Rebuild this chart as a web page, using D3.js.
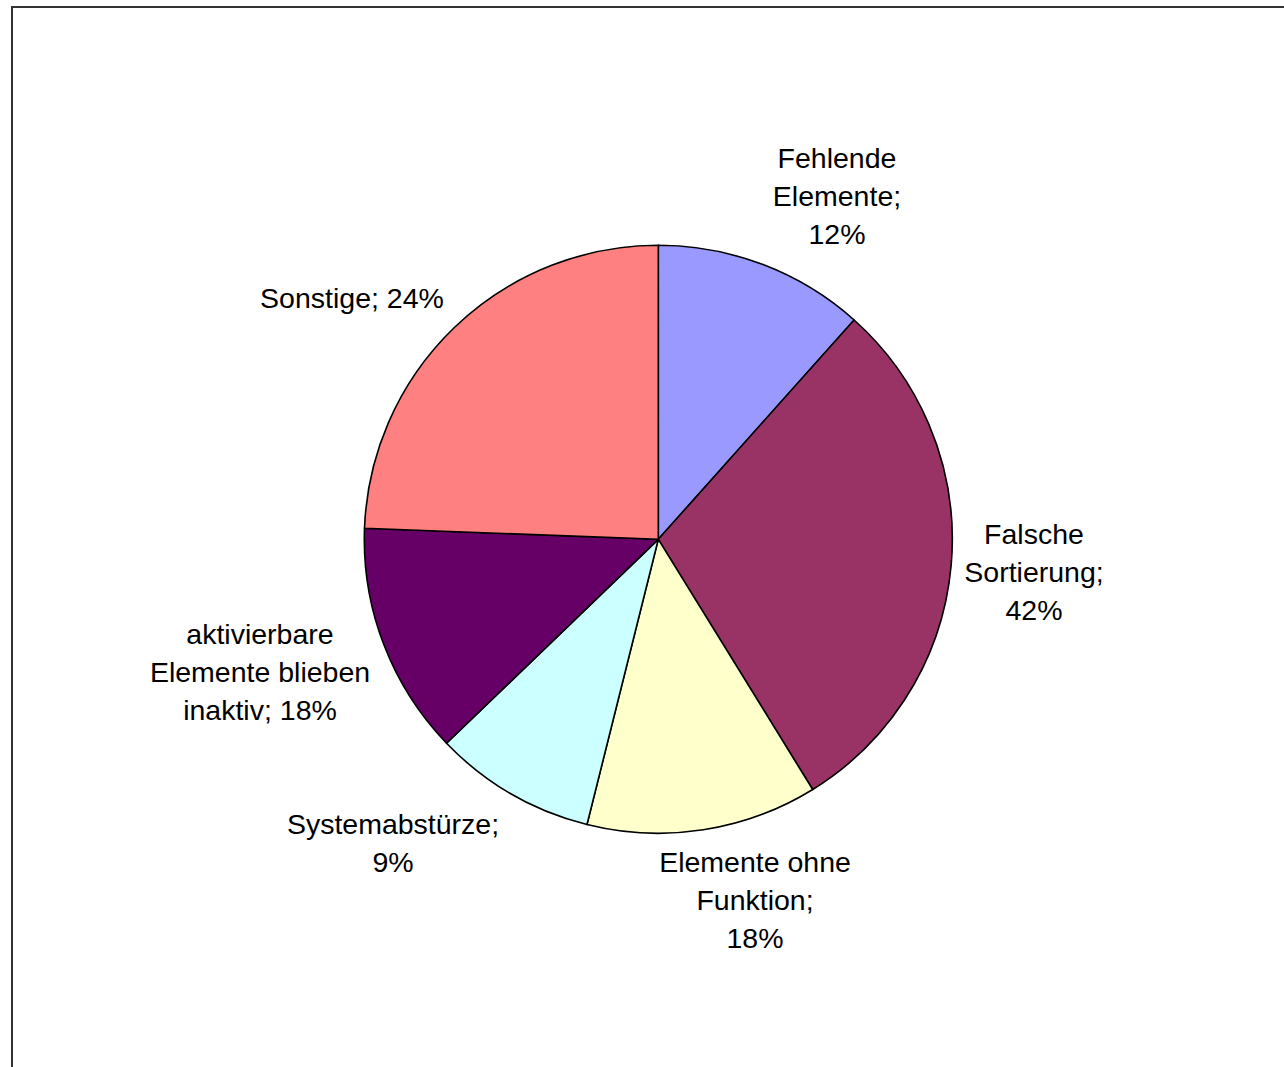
<!DOCTYPE html>
<html>
<head>
<meta charset="utf-8">
<script src="https://cdn.jsdelivr.net/npm/d3@7"></script>
<style>
  html, body { margin: 0; padding: 0; background: #fff; }
  svg { display: block; }
</style>
</head>
<body>
<div id="chart"></div>
<script>
// Slice sizes
const categories = ["Fehlende Elemente", "Falsche Sortierung", "Elemente ohne Funktion", "Systemabstürze", "aktivierbare Elemente blieben inaktiv", "Sonstige"];
const values = [11.6, 29.6, 12.7, 8.9, 12.8, 24.4];
// Percentages printed in the labels (as shown in the original)
const labelPct = [12, 42, 18, 9, 18, 24];
// Label line breaks
const labelLines = [
  ["Fehlende", "Elemente;", "12%"],
  ["Falsche", "Sortierung;", "42%"],
  ["Elemente ohne", "Funktion;", "18%"],
  ["Systemabstürze;", "9%"],
  ["aktivierbare", "Elemente blieben", "inaktiv; 18%"],
  ["Sonstige; 24%"]
];
const colors = ["#9999FF", "#993366", "#FFFFCC", "#CCFFFF", "#660066", "#FF8080"];

const width = 1284;
const height = 1067;
const cx = 658.3, cy = 539.3, radius = 294;

// label centres (layout only)
const labelPos = [[837, 158], [1034, 534], [755, 862], [393, 824], [260, 634], [352, 298]];
const fontSize = 28.5;
const lineH = 38.2;

const svg = d3.select("#chart")
  .append("svg")
  .attr("width", width)
  .attr("height", height);

// chart frame
svg.append("path")
  .attr("d", `M12,${height + 5} L12,7 L${width + 5},7`)
  .attr("fill", "none")
  .attr("stroke", "#333")
  .attr("stroke-width", 2);

const pie = d3.pie().sort(null).value(d => d);
const arc = d3.arc().innerRadius(0).outerRadius(radius);

const g = svg.append("g")
  .attr("transform", `translate(${cx},${cy})`);

g.selectAll("path.slice")
  .data(pie(values))
  .enter()
  .append("path")
  .attr("class", "slice")
  .attr("d", arc)
  .attr("fill", (d, i) => colors[i])
  .attr("stroke", "#000")
  .attr("stroke-width", 1.6)
  .attr("stroke-linejoin", "round");

// Labels
labelLines.forEach((lines, i) => {
  const t = svg.append("text")
    .attr("text-anchor", "middle")
    .attr("font-family", "Liberation Sans, Arial, sans-serif")
    .attr("font-size", fontSize + "px")
    .attr("fill", "#000");
  lines.forEach((line, j) => {
    t.append("tspan")
      .attr("x", labelPos[i][0])
      .attr("y", labelPos[i][1] + j * lineH + fontSize * 0.34)
      .text(line);
  });
});
</script>
</body>
</html>
